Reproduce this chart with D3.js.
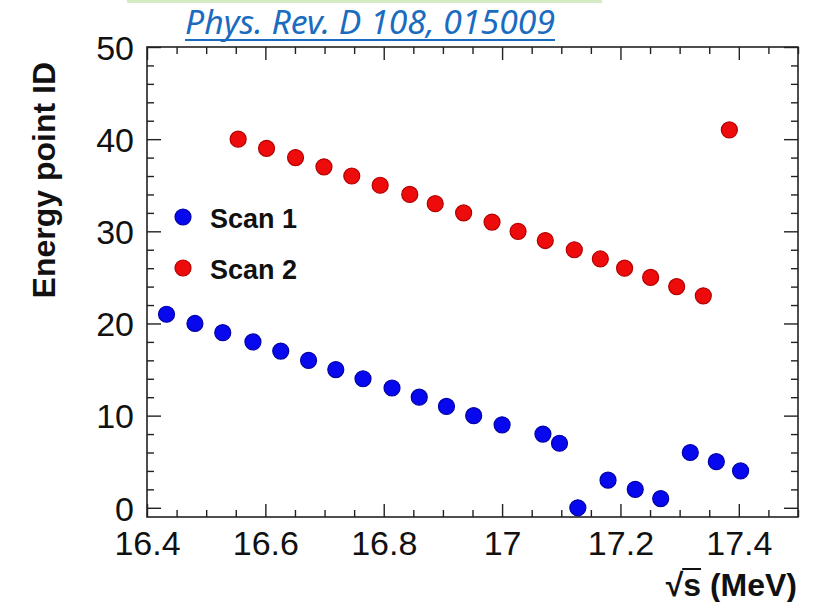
<!DOCTYPE html>
<html>
<head>
<meta charset="utf-8">
<script src="https://cdn.jsdelivr.net/npm/d3@7"></script>
<style>
  html, body { margin: 0; padding: 0; background: #ffffff; }
  svg { display: block; }
</style>
</head>
<body>
<svg id="chart" width="818" height="602"></svg>
<script>
// Energy points of the two scans: sqrt(s) in MeV and point ID
const scan1Energy = [16.433, 16.481, 16.528, 16.579, 16.626, 16.673, 16.719, 16.765, 16.814, 16.860, 16.906, 16.952, 17.000, 17.069, 17.097, 17.128, 17.179, 17.225, 17.268, 17.318, 17.362, 17.403];
const scan1Id     = [21, 20, 19, 18, 17, 16, 15, 14, 13, 12, 11, 10, 9, 8, 7, 0, 3, 2, 1, 6, 5, 4];
const scan2Energy = [16.554, 16.602, 16.651, 16.699, 16.746, 16.794, 16.844, 16.887, 16.935, 16.983, 17.027, 17.073, 17.122, 17.166, 17.207, 17.251, 17.295, 17.340, 17.384];
const scan2Id     = [40, 39, 38, 37, 36, 35, 34, 33, 32, 31, 30, 29, 28, 27, 26, 25, 24, 23, 41];

const seriesNames = ["Scan 1", "Scan 2"];
const xMajorTicks = [16.4, 16.6, 16.8, 17.0, 17.2, 17.4];
const xTickLabels = ["16.4", "16.6", "16.8", "17", "17.2", "17.4"];
const yMajorTicks = [0, 10, 20, 30, 40, 50];
const citation = "Phys. Rev. D 108, 015009";

const series = [
  { name: seriesNames[0], fill: "#0808ee", stroke: "#0000a6", pts: scan1Energy.map((e, i) => ({ e, id: scan1Id[i] })) },
  { name: seriesNames[1], fill: "#ee0b0b", stroke: "#b30000", pts: scan2Energy.map((e, i) => ({ e, id: scan2Id[i] })) }
];

const svg = d3.select("#chart");
const frame = { left: 147, right: 798, top: 47, bottom: 517 };
const font = "'Liberation Sans', Arial, Helvetica, sans-serif";

const x = d3.scaleLinear().domain([16.4, 17.5]).range([frame.left, frame.right]);
const y = d3.scaleLinear().domain([-1, 50]).range([frame.bottom, frame.top]);

// Thin band along the top edge
svg.append("rect").attr("x", 127).attr("y", 0).attr("width", 475).attr("height", 3).attr("fill", "#d6eac6");

// Citation link
svg.append("text")
  .attr("x", 370).attr("y", 34)
  .attr("text-anchor", "middle")
  .attr("font-family", "'Noto Sans', 'Open Sans', sans-serif")
  .attr("font-style", "italic")
  .attr("font-size", 32)
  .attr("fill", "#1a6cc0")
  .attr("textLength", 370)
  .attr("lengthAdjust", "spacingAndGlyphs")
  .text(citation);
svg.append("line").attr("x1", 185).attr("x2", 555).attr("y1", 40).attr("y2", 40)
  .attr("stroke", "#1a6cc0").attr("stroke-width", 2);

// Minor tick positions
const xMinor = d3.range(16.4, 17.5001, 0.05).map(v => +v.toFixed(2)).filter(v => !xMajorTicks.some(t => Math.abs(t - v) < 1e-6));
const yMinor = d3.range(0, 50.001, 2).filter(v => v % 10 !== 0);

function drawAxis(axisFn, scale, values, size, transform, labels) {
  const a = axisFn(scale).tickValues(values).tickSizeInner(size).tickSizeOuter(0);
  if (labels) a.tickFormat((d, i) => labels[i]); else a.tickFormat("");
  const g = svg.append("g").attr("transform", transform).call(a);
  g.select(".domain").remove();
  g.selectAll(".tick line").attr("stroke", "#222").attr("stroke-width", 1.4);
  return g;
}

// Bottom axis (ticks pointing inward)
const gxb = drawAxis(d3.axisBottom, x, xMajorTicks, -13, `translate(0,${frame.bottom})`, xTickLabels);
gxb.call(g => g.selectAll(".tick text")
  .attr("y", 14).attr("dy", "0.71em")
  .attr("font-family", font).attr("font-size", 34).attr("fill", "#111"));
drawAxis(d3.axisBottom, x, xMinor, -7, `translate(0,${frame.bottom})`);
// Top axis
drawAxis(d3.axisTop, x, xMajorTicks, -13, `translate(0,${frame.top})`);
drawAxis(d3.axisTop, x, xMinor, -7, `translate(0,${frame.top})`);

// Left axis
const gyl = drawAxis(d3.axisLeft, y, yMajorTicks, -14, `translate(${frame.left},0)`, yMajorTicks.map(String));
gyl.call(g => g.selectAll(".tick text")
  .attr("x", -13).attr("dy", "0.36em")
  .attr("font-family", font).attr("font-size", 34).attr("fill", "#111"));
drawAxis(d3.axisLeft, y, yMinor, -7, `translate(${frame.left},0)`);
// Right axis
drawAxis(d3.axisRight, y, yMajorTicks, -14, `translate(${frame.right},0)`);
drawAxis(d3.axisRight, y, yMinor, -7, `translate(${frame.right},0)`);

// Frame
svg.append("rect")
  .attr("x", frame.left).attr("y", frame.top)
  .attr("width", frame.right - frame.left).attr("height", frame.bottom - frame.top)
  .attr("fill", "none").attr("stroke", "#222").attr("stroke-width", 1.6);

// Markers
series.forEach(s => {
  svg.append("g").selectAll("circle").data(s.pts).join("circle")
    .attr("cx", d => x(d.e)).attr("cy", d => y(d.id)).attr("r", 8)
    .attr("fill", s.fill).attr("stroke", s.stroke).attr("stroke-width", 1.2);
});

// Legend
const legend = svg.append("g").attr("transform", "translate(183,217)");
series.forEach((s, i) => {
  const row = legend.append("g").attr("transform", `translate(0,${i * 51})`);
  row.append("circle").attr("r", 8).attr("fill", s.fill).attr("stroke", s.stroke).attr("stroke-width", 1.2);
  row.append("text").attr("x", 27).attr("y", 11)
    .attr("font-family", font).attr("font-weight", "bold").attr("font-size", 27).attr("fill", "#111")
    .text(s.name);
});

// Axis titles
svg.append("text")
  .attr("transform", "translate(55,62) rotate(-90)")
  .attr("text-anchor", "end")
  .attr("font-family", font).attr("font-weight", "bold").attr("font-size", 32).attr("fill", "#111")
  .text("Energy point ID");

const xt = svg.append("text")
  .attr("x", 797).attr("y", 596)
  .attr("text-anchor", "end")
  .attr("font-family", font).attr("font-weight", "bold").attr("font-size", 32).attr("fill", "#111")
  .text("√s (MeV)");
// Bar of the square root over "s"
const node = xt.node();
const rootBox = node.getExtentOfChar(0);
const sBox = node.getExtentOfChar(1);
svg.append("line")
  .attr("x1", rootBox.x + rootBox.width - 1).attr("x2", sBox.x + sBox.width)
  .attr("y1", rootBox.y + 2).attr("y2", rootBox.y + 2)
  .attr("stroke", "#111").attr("stroke-width", 2);
</script>
</body>
</html>
